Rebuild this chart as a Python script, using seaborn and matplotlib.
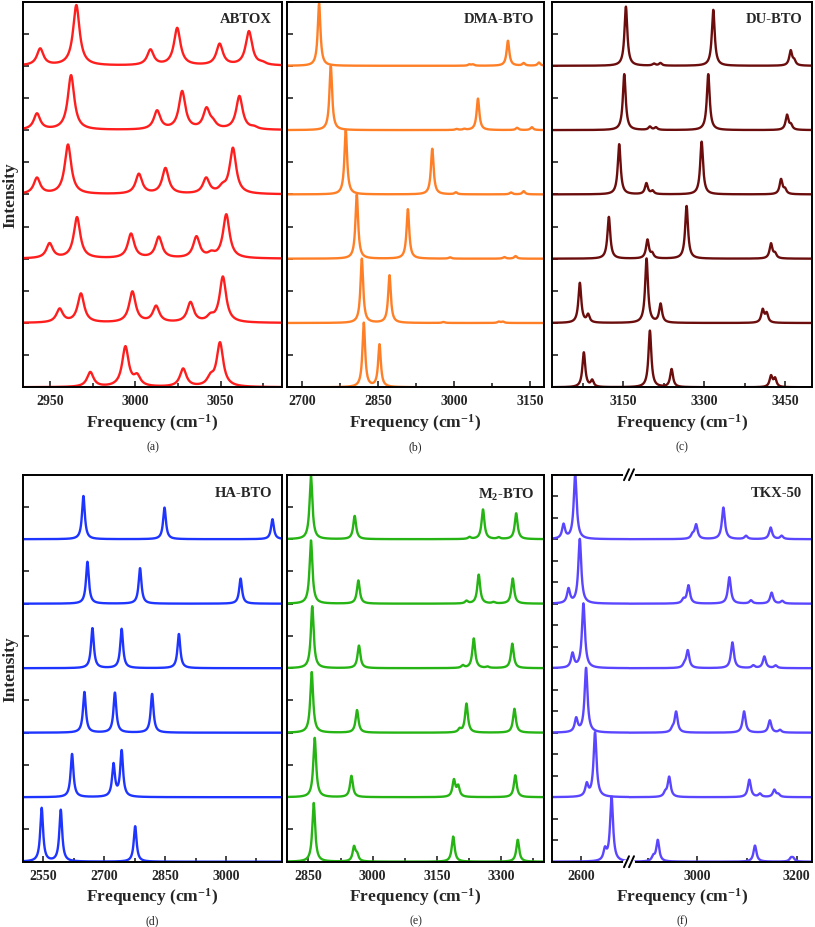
import numpy as np
import pandas as pd
import seaborn as sns
import matplotlib.pyplot as plt
from matplotlib.ticker import MultipleLocator, FixedLocator
from matplotlib.lines import Line2D

sns.set_style("ticks")
plt.rcParams['font.family'] = ['Liberation Serif', 'DejaVu Serif']
plt.rcParams['mathtext.fontset'] = 'custom'
plt.rcParams['mathtext.rm'] = 'Liberation Serif:bold'
plt.rcParams['mathtext.bf'] = 'Liberation Serif:bold'
plt.rcParams['mathtext.it'] = 'Liberation Serif:bold'
plt.rcParams['axes.edgecolor'] = 'black'

# peak centres (cm-1) and heights for each simulated spectrum, bottom -> top
abtox_pos = [[2973.5, 2994.1, 3001, 3028, 3044, 3049.6],
             [2955.5, 2968, 2998.2, 3012.1, 3032.3, 3044, 3051.3],
             [2949.6, 2965.7, 2997.4, 3013.7, 3035.8, 3044.5, 3053.3],
             [2942.2, 2960.4, 3002, 3017.6, 3041.5, 3051, 3057.2],
             [2942.2, 2962.2, 3012.7, 3027.4, 3041.7, 3045.5, 3061, 3069.6],
             [2944.1, 2965.3, 3008.8, 3024.5, 3049.4, 3066.6, 3074.5]]
abtox_amp = [[0.23, 0.62, 0.15, 0.28, 0.12, 0.68],
             [0.21, 0.45, 0.48, 0.25, 0.31, 0.08, 0.71],
             [0.23, 0.64, 0.38, 0.33, 0.33, 0.06, 0.68],
             [0.25, 0.77, 0.31, 0.40, 0.24, 0.08, 0.71],
             [0.25, 0.85, 0.29, 0.59, 0.31, 0.08, 0.52, 0.03],
             [0.26, 0.94, 0.24, 0.58, 0.33, 0.53, 0.03]]

dma_pos = [[2822.2, 2853.1],
           [2818.3, 2872.8, 2979, 3088, 3096],
           [2808.4, 2909, 2992, 3099, 3121],
           [2786.7, 2957, 3003.5, 3112, 3137],
           [2757.2, 3005, 3020, 3047, 3124, 3153],
           [2734.2, 3030, 3037, 3106, 3137, 3167]]
dma_amp = [[1.0, 0.66],
           [1.0, 0.74, 0.015, 0.02, 0.02],
           [1.0, 0.77, 0.02, 0.025, 0.04],
           [1.0, 0.71, 0.03, 0.03, 0.05],
           [1.0, 0.015, 0.015, 0.49, 0.035, 0.045],
           [0.97, 0.02, 0.02, 0.39, 0.04, 0.05]]

du_pos = [[3077, 3092.5, 3199.5, 3239.7, 3424, 3431.5],
          [3069.6, 3085, 3193.3, 3219.3, 3408.6, 3416],
          [3123.4, 3195, 3203.8, 3267.5, 3424, 3431.5],
          [3142.6, 3193, 3204.4, 3295.4, 3442.6, 3450],
          [3152, 3199.5, 3210.6, 3307.7, 3453.7, 3461],
          [3155, 3207, 3219, 3317, 3460.5, 3467]]
du_amp = [[0.54, 0.10, 0.88, 0.28, 0.17, 0.13],
          [0.62, 0.12, 1.0, 0.29, 0.20, 0.14],
          [0.65, 0.29, 0.07, 0.82, 0.23, 0.07],
          [0.78, 0.17, 0.05, 0.82, 0.23, 0.07],
          [0.87, 0.05, 0.04, 0.87, 0.23, 0.07],
          [0.92, 0.03, 0.04, 0.87, 0.23, 0.07]]

ha_pos = [[2546, 2593, 2776.3],
          [2620.8, 2723, 2743],
          [2651.3, 2726.4, 2818],
          [2671, 2743, 2884],
          [2658.7, 2788.3, 3036],
          [2648.8, 2848.6, 3114.5]]
ha_amp = [[0.83, 0.80, 0.55],
          [0.67, 0.50, 0.71],
          [0.63, 0.62, 0.60],
          [0.62, 0.61, 0.53],
          [0.65, 0.55, 0.39],
          [0.67, 0.49, 0.31]]

m2_pos = [[2862.4, 2956.5, 2963.5, 3188, 3338.7],
          [2864.7, 2950.4, 3189.7, 3199.7, 3333],
          [2857.7, 2963.5, 3203, 3219, 3331],
          [2859, 2968, 3210.5, 3236, 3268, 3326],
          [2856, 2966.6, 3219, 3247.6, 3282, 3327],
          [2856, 2958, 3226, 3257.6, 3294, 3335]]
m2_amp = [[0.91, 0.22, 0.10, 0.39, 0.34],
          [0.92, 0.33, 0.26, 0.16, 0.34],
          [0.94, 0.35, 0.05, 0.45, 0.37],
          [0.96, 0.35, 0.04, 0.46, 0.02, 0.38],
          [0.98, 0.36, 0.04, 0.45, 0.02, 0.39],
          [0.98, 0.36, 0.03, 0.46, 0.025, 0.40]]

tkx_pos = [[2648.3, 2661.7, 2911, 2920, 3116, 3188.6, 3193],
           [2611.4, 2628.2, 2935, 2943, 3104.7, 3126, 3155, 3163],
           [2590, 2610, 2949.7, 2957, 3094, 3146, 3166.4],
           [2582.6, 2604.7, 2973.8, 2980.5, 3070.5, 3112.7, 3134.9, 3157.7],
           [2574.5, 2597.3, 2971.8, 2981.9, 3064.4, 3108, 3149.6, 3171],
           [2564.4, 2588, 2990, 2997.3, 3052.3, 3098, 3147.6, 3169.8]]
tkx_amp = [[0.17, 1.0, 0.07, 0.33, 0.25, 0.05, 0.05],
           [0.19, 1.0, 0.06, 0.31, 0.27, 0.05, 0.11, 0.04],
           [0.21, 1.0, 0.05, 0.32, 0.33, 0.19, 0.04],
           [0.22, 1.0, 0.05, 0.27, 0.40, 0.04, 0.18, 0.04],
           [0.22, 1.0, 0.06, 0.28, 0.41, 0.05, 0.17, 0.04],
           [0.22, 1.0, 0.06, 0.22, 0.49, 0.05, 0.18, 0.05]]

W, H = 815, 928
fig = plt.figure(figsize=(W / 100, H / 100), dpi=100)


def lorentz(x, pos, amp, hw):
    y = np.zeros_like(x)
    for p, a in zip(pos, amp):
        y += a * hw ** 2 / ((x - p) ** 2 + hw ** 2)
    return y


def px_axes(x0, x1, ytop, ybot):
    return fig.add_axes([x0 / W, 1 - ybot / H, (x1 - x0) / W, (ybot - ytop) / H])


def style_axes(ax, xlim, major, minor, ystep):
    ax.set_xlim(*xlim)
    ax.set_ylim(0, 6)
    ax.set_xlabel('')
    ax.set_ylabel('')
    ax.xaxis.set_major_locator(major)
    ax.xaxis.set_minor_locator(minor)
    ax.yaxis.set_major_locator(MultipleLocator(ystep))
    ax.tick_params(which='both', direction='in', top=False, right=False,
                   labelleft=False, width=1.2, pad=5, labelsize=10)
    ax.tick_params(which='major', length=4.5)
    ax.tick_params(which='minor', length=3)
    for lab in ax.get_xticklabels():
        lab.set_fontweight('bold')
    for s in ax.spines.values():
        s.set_linewidth(1.4)


def draw_spectra(ax, pos_list, amp_list, hw, color, xlim):
    x = np.linspace(xlim[0], xlim[1], 3000)
    for i, (pos, amp) in enumerate(zip(pos_list, amp_list)):
        df = pd.DataFrame({'x': x, 'y': i + lorentz(x, pos, amp, hw)})
        sns.lineplot(data=df, x='x', y='y', ax=ax, color=color, lw=1.7,
                     estimator=None, sort=False)


rows = [(2.5, 388.3), (475.7, 862.7)]
cols = [(23, 282), (287, 544), (552, 812)]

panels = [
    ('ABTOX', abtox_pos, abtox_amp, 2.3, '#ff1e1e', (2934, 3086), 50, 25, 0, 0),
    ('DMA-BTO', dma_pos, dma_amp, 3.2, '#ff7f27', (2671, 3177), 150, 75, 0, 1),
    ('DU-BTO', du_pos, du_amp, 3.2, '#6b0d0d', (3018, 3500), 150, 75, 0, 2),
    ('HA-BTO', ha_pos, ha_amp, 4.2, '#1e34ff', (2500, 3138), 150, 75, 1, 0),
    (r'M$_2$-BTO', m2_pos, m2_amp, 4.0, '#26b414', (2800, 3400), 150, 75, 1, 1),
]

for title, pos, amp, hw, color, xlim, maj, mnr, r, c in panels:
    ytop, ybot = rows[r]
    x0, x1 = cols[c]
    ax = px_axes(x0, x1, ytop, ybot)
    draw_spectra(ax, pos, amp, hw, color, xlim)
    style_axes(ax, xlim, MultipleLocator(maj), MultipleLocator(mnr), 0.5)
    ax.text(0.962, 0.972, title, transform=ax.transAxes, ha='right', va='top',
            fontsize=10.5, fontweight='bold')

# TKX-50 with broken frequency axis
ytop, ybot = rows[1]
brk = 629
tkx_left = (2541, 2697)
tkx_right = (2862, 3231)
axl = px_axes(552, brk, ytop, ybot)
axr = px_axes(brk, 812, ytop, ybot)
draw_spectra(axl, tkx_pos, tkx_amp, 3.6, '#5a46ff', (2541, 3231))
draw_spectra(axr, tkx_pos, tkx_amp, 3.6, '#5a46ff', (2541, 3231))
style_axes(axl, tkx_left, FixedLocator([2600]), FixedLocator([]), 1 / 3)
style_axes(axr, tkx_right, FixedLocator([3000, 3200]), FixedLocator([2900, 3100]), 1 / 3)
axl.spines['right'].set_visible(False)
axr.spines['left'].set_visible(False)
axr.tick_params(left=False)
axr.text(0.945, 0.972, 'TKX-50', transform=axr.transAxes, ha='right', va='top',
         fontsize=10.5, fontweight='bold')

for yb in (ytop, ybot):
    fig.add_artist(Line2D([(brk - 4) / W, (brk + 4) / W], [1 - yb / H] * 2,
                          color='white', lw=3, zorder=10))
    for dx in (-2.5, 2.5):
        fig.add_artist(Line2D([(brk + dx - 2.5) / W, (brk + dx + 2.5) / W],
                              [1 - (yb + 5.5) / H, 1 - (yb - 5.5) / H],
                              color='black', lw=1.4, zorder=11))

# axis labels and captions
for r, (ytop, ybot) in enumerate(rows):
    fig.text(10 / W, 1 - (ytop + ybot) / 2 / H, 'Intensity', rotation=90,
             ha='center', va='center', fontsize=12.5, fontweight='bold')
    lab_y = 423 if r == 0 else 897
    cap_y = 447 if r == 0 else 921.5
    for c, (x0, x1) in enumerate(cols):
        xc = (x0 + x1) / 2 / W
        fig.text(xc, 1 - lab_y / H, r'Frequency (cm$^{-1}$)', ha='center', va='center',
                 fontsize=12.5, fontweight='bold')
        fig.text(xc, 1 - cap_y / H, '(' + 'abcdef'[r * 3 + c] + ')', ha='center',
                 va='center', fontsize=8.5)

fig.savefig('out.png', dpi=100)
